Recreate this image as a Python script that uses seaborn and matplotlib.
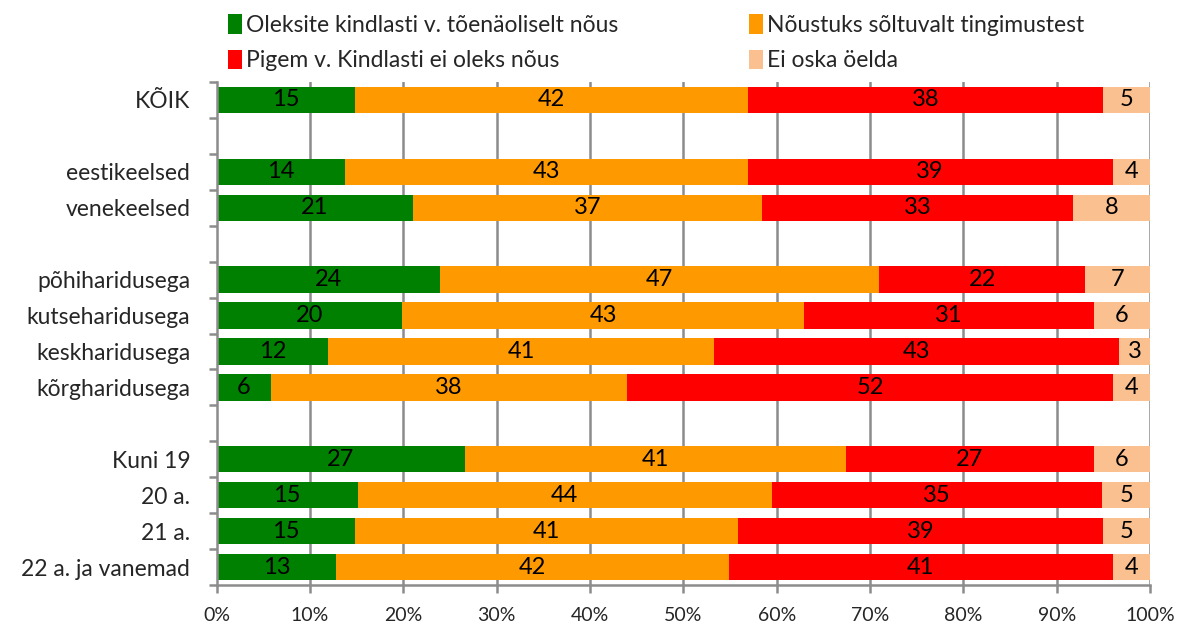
import numpy as np
import pandas as pd
import matplotlib
matplotlib.use("Agg")
import matplotlib.pyplot as plt
from matplotlib.patches import Patch
import seaborn as sns

# ---- data ----
groups = ["KÕIK", " ", "eestikeelsed", "venekeelsed", "  ",
          "põhiharidusega", "kutseharidusega", "keskharidusega", "kõrgharidusega", "   ",
          "Kuni 19", "20 a.", "21 a.", "22 a. ja vanemad"]
data_groups = ["KÕIK", "eestikeelsed", "venekeelsed",
               "põhiharidusega", "kutseharidusega", "keskharidusega", "kõrgharidusega",
               "Kuni 19", "20 a.", "21 a.", "22 a. ja vanemad"]
agree = [14.8, 13.8, 21.0, 23.9, 19.9, 11.9, 5.8, 26.6, 15.1, 14.8, 12.8]
conditional = [42.1, 43.1, 37.4, 47.1, 43.0, 41.4, 38.2, 40.8, 44.4, 41.1, 42.1]
disagree = [38.1, 39.1, 33.4, 22.0, 31.1, 43.4, 52.0, 26.6, 35.4, 39.1, 41.1]
dont_know = [5.0, 4.0, 8.2, 7.0, 6.0, 3.3, 4.0, 6.0, 5.1, 5.0, 4.0]
series_names = ["Oleksite kindlasti v. tõenäoliselt nõus", "Nõustuks sõltuvalt tingimustest",
                "Pigem v. Kindlasti ei oleks nõus", "Ei oska öelda"]
colors = ["#008000", "#FF9900", "#FF0000", "#FAC090"]
xtick_vals = [0, 10, 20, 30, 40, 50, 60, 70, 80, 90, 100]
xtick_labels = [f"{v}%" for v in xtick_vals]

sns.set_theme(style="white")
plt.rcParams["font.family"] = ["Lato", "DejaVu Sans"]

fig = plt.figure(figsize=(11.77, 6.28), dpi=100)
ax = fig.add_axes([216.7 / 1177, 1 - 585 / 628, (1150 - 216.7) / 1177, (585 - 82) / 628])

vals = np.array([agree, conditional, disagree, dont_know])
cum = np.cumsum(vals, axis=0)
df = pd.DataFrame({"group": data_groups})
for i in range(4):
    df[f"c{i}"] = cum[i]

gridc = "#8C8C8C"
for x in xtick_vals[1:]:
    ax.axvline(x, color=gridc, lw=1.8, zorder=0)

for i in range(3, -1, -1):
    sns.barplot(data=df, x=f"c{i}", y="group", order=groups, color=colors[i],
                saturation=1, width=0.73, orient="h", ax=ax, linewidth=0, zorder=2)

ypos = {g: k for k, g in enumerate(groups)}
for i in range(4):
    for j, g in enumerate(data_groups):
        start = cum[i][j] - vals[i][j]
        ax.text(start + vals[i][j] / 2, ypos[g], f"{vals[i][j]:.0f}", ha="center",
                va="center", fontsize=17, color="black", zorder=3)

ax.set_xlim(0, 100)
ax.set_ylim(len(groups) - 0.5, -0.5)
ax.set_xticks(xtick_vals)
ax.set_xticklabels(xtick_labels, fontsize=14)
ax.set_yticks(range(len(groups)))
ax.set_yticklabels([g if g.strip() else "" for g in groups], fontsize=16.5)
ax.set_yticks(np.arange(-0.5, len(groups)), minor=True)
ax.tick_params(axis="y", which="major", length=0, pad=19)
ax.tick_params(axis="y", which="minor", length=6, width=1.8, color=gridc, direction="out", left=True)
ax.tick_params(axis="x", length=6, width=1.8, color=gridc, direction="out", bottom=True, pad=10)
ax.set_xlabel("")
ax.set_ylabel("")
for s in ["top", "right"]:
    ax.spines[s].set_visible(False)
for s in ["left", "bottom"]:
    ax.spines[s].set_color(gridc)
    ax.spines[s].set_linewidth(1.8)

handles = [Patch(facecolor=c, edgecolor="none") for c in colors]
kw = dict(frameon=False, fontsize=16.5, handlelength=0.6, handleheight=0.95,
          handletextpad=0.2, labelspacing=0.6, borderaxespad=0, borderpad=0)
fig.legend([handles[0], handles[2]], [series_names[0], series_names[2]],
           loc="upper left", bbox_to_anchor=(228 / 1177, 1 - 14 / 628), **kw)
fig.legend([handles[1], handles[3]], [series_names[1], series_names[3]],
           loc="upper left", bbox_to_anchor=(749 / 1177, 1 - 14 / 628), **kw)

fig.savefig("out.png", dpi=100)
